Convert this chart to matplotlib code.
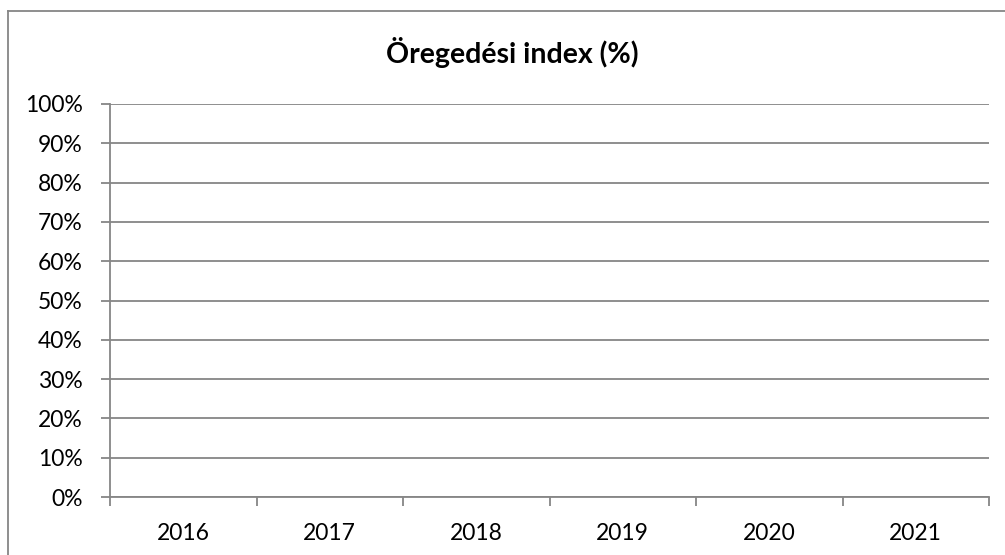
import numpy as np
import matplotlib.pyplot as plt
from matplotlib.lines import Line2D
from matplotlib.ticker import FixedLocator, PercentFormatter

plt.rcParams['font.family'] = ['Lato', 'DejaVu Sans']

years = ['2016', '2017', '2018', '2019', '2020', '2021']
# the series has no values in the source chart
values = [np.nan, np.nan, np.nan, np.nan, np.nan, np.nan]
yticks = [0, 10, 20, 30, 40, 50, 60, 70, 80, 90, 100]

grey = '#868686'

fig = plt.figure(figsize=(10.05, 5.55), dpi=100)
ax = fig.add_axes([110 / 1005, 1 - 497 / 555, 879 / 1005, 393 / 555])

x = np.arange(len(years)) + 0.5
ax.plot(x, values, color='#4f81bd', lw=2)

ax.set_xlim(0, len(years))
ax.set_ylim(0, 100)
ax.set_yticks(yticks)
ax.yaxis.set_major_formatter(PercentFormatter(decimals=0))
ax.grid(axis='y', color=grey, lw=1.3)
ax.set_axisbelow(True)

ax.xaxis.set_major_locator(FixedLocator(np.arange(len(years) + 1)))
ax.xaxis.set_minor_locator(FixedLocator(x))
ax.set_xticklabels([], minor=False)
ax.set_xticks(x, years, minor=True)
ax.tick_params(axis='x', which='major', length=6.5, width=1.3, color=grey, direction='out')
ax.tick_params(axis='x', which='minor', length=0, pad=18.5, labelsize=16.5)
ax.tick_params(axis='y', length=6.5, width=1.3, color=grey, direction='out', pad=13, labelsize=16.5)

for side in ['top', 'right']:
    ax.spines[side].set_visible(False)
for side in ['left', 'bottom']:
    ax.spines[side].set_color(grey)
    ax.spines[side].set_linewidth(1.3)

fig.text(512 / 1005, 1 - 63 / 555, 'Öregedési index (%)', ha='center', va='baseline',
         fontsize=20.5, fontweight='bold')

# outer chart frame
fig.add_artist(Line2D([8 / 1005, 8 / 1005], [0, 1 - 11 / 555], color=grey, lw=1.3,
                      transform=fig.transFigure))
fig.add_artist(Line2D([8 / 1005, 1], [1 - 11 / 555, 1 - 11 / 555], color=grey, lw=1.3,
                      transform=fig.transFigure))

fig.savefig('out.png', dpi=100)
